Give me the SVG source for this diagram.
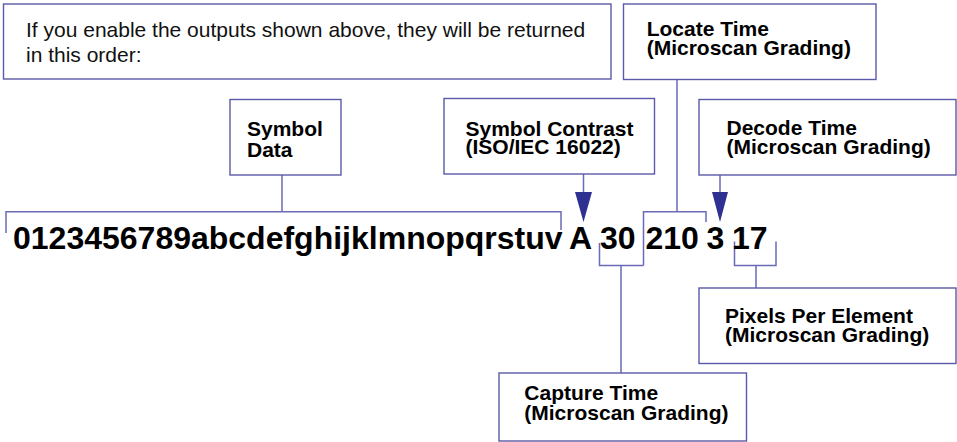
<svg xmlns="http://www.w3.org/2000/svg" width="957" height="442" viewBox="0 0 957 442">
<style>
.box{fill:#fff;stroke:#5a5aa8;stroke-width:1.4}
.ln{fill:none;stroke:#6a6ab6;stroke-width:1.5}
.ah{fill:#2e3192;stroke:none}
.lbl{font-family:"Liberation Sans",Arial,sans-serif;font-weight:bold;font-size:21px;fill:#000}
.note{font-family:"Liberation Sans",Arial,sans-serif;font-size:21px;fill:#111}
.big{font-family:"Liberation Sans",Arial,sans-serif;font-weight:bold;font-size:32px;fill:#000}
</style>
<rect width="957" height="442" fill="#fff"/>
<g id="connectors">
<path class="ln" d="M282 175V211.7M6 233V211.7H561V230"/>
<path class="ln" d="M583.5 174V193"/>
<polygon class="ah" points="575,192 592,192 583.5,222"/>
<path class="ln" d="M677 79.5V211.7M706 222V211.7H643.5V265.5M599.5 243V265.5H643.5M621 265.5V373"/>
<path class="ln" d="M720 175V193"/>
<polygon class="ah" points="712,192 728,192 720,222"/>
<path class="ln" d="M734.5 241.5V265.5H776V241.5M756 265.5V288"/>
</g>
<g id="note">
<rect class="box" x="3.5" y="4" width="607.5" height="75"/>
<text class="note" x="26" y="36.7">If you enable the outputs shown above, they will be returned</text>
<text class="note" x="26" y="61.7">in this order:</text>
</g>
<g id="locate">
<rect class="box" x="623.5" y="4" width="252.5" height="75.5"/>
<text class="lbl" x="646.7" y="36">Locate Time</text>
<text class="lbl" x="646.7" y="55">(Microscan Grading)</text>
</g>
<g id="symbol-data">
<rect class="box" x="230" y="99.5" width="111" height="75.5"/>
<text class="lbl" x="247" y="135.7">Symbol</text>
<text class="lbl" x="247" y="156.7">Data</text>
</g>
<g id="symbol-contrast">
<rect class="box" x="444" y="98.5" width="210.5" height="75.5"/>
<text class="lbl" x="465.5" y="135.7">Symbol Contrast</text>
<text class="lbl" x="465.5" y="154">(ISO/IEC 16022)</text>
</g>
<g id="decode">
<rect class="box" x="699" y="99.5" width="257" height="75.5"/>
<text class="lbl" x="726.5" y="134.5">Decode Time</text>
<text class="lbl" x="726.5" y="153.5">(Microscan Grading)</text>
</g>
<g id="output">
<text class="big" y="248.5"><tspan x="13">0123456789abcdefghijklmnopqrstuv</tspan><tspan x="569">A</tspan><tspan x="600">30</tspan><tspan x="645.5">210</tspan><tspan x="706.5">3</tspan><tspan x="732">17</tspan></text>
</g>
<g id="pixels">
<rect class="box" x="699" y="288" width="257" height="75.5"/>
<text class="lbl" x="725" y="322.5">Pixels Per Element</text>
<text class="lbl" x="725" y="341.5">(Microscan Grading)</text>
</g>
<g id="capture">
<rect class="box" x="499" y="373" width="247.5" height="68"/>
<text class="lbl" x="524.3" y="400">Capture Time</text>
<text class="lbl" x="524.3" y="419.5">(Microscan Grading)</text>
</g>
</svg>
